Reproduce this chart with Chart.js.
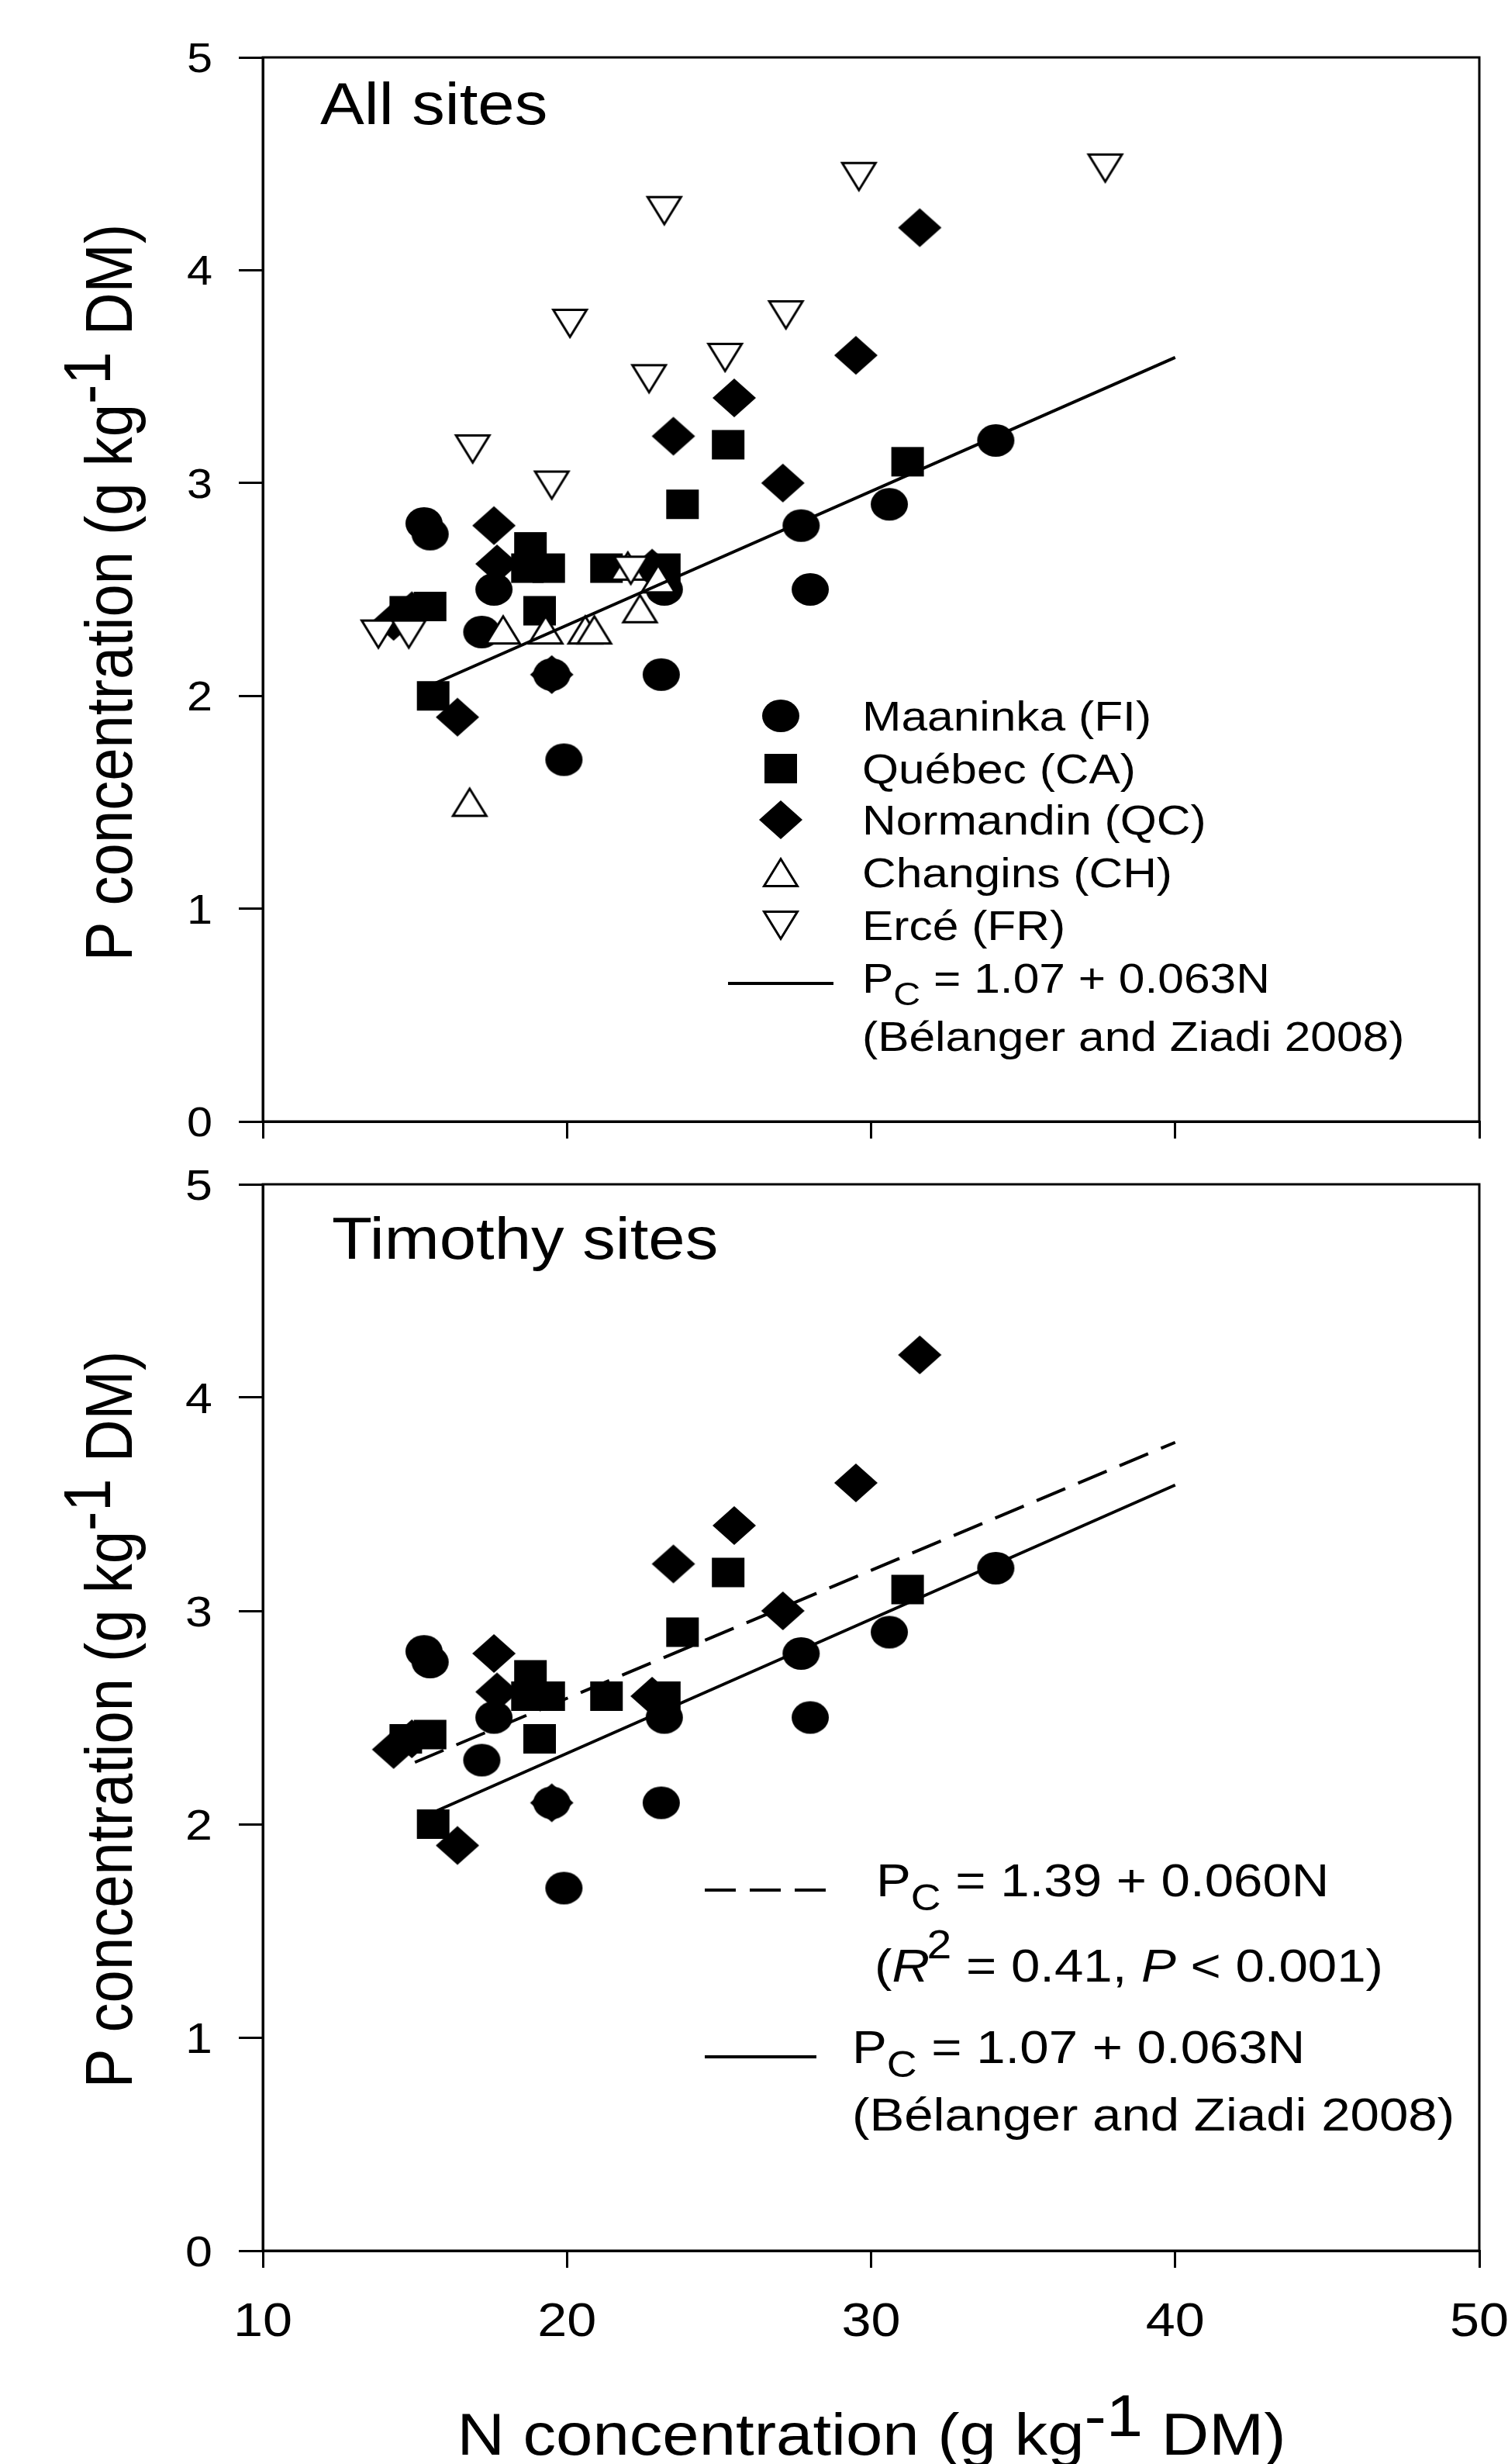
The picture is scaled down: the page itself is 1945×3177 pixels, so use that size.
<!DOCTYPE html>
<html>
<head>
<meta charset="utf-8">
<script src="https://cdn.jsdelivr.net/npm/chart.js@4.4.1/dist/chart.umd.min.js"></script>
<style>
  html, body { margin: 0; padding: 0; background: #fff; }
  #wrap { position: relative; width: 1945px; height: 3177px; overflow: hidden; }
  canvas { position: absolute; left: 0; }
</style>
</head>
<body>
<div id="wrap">
  <canvas id="topChart" width="1945" height="1500" style="top:0px"></canvas>
  <canvas id="bottomChart" width="1945" height="1687" style="top:1490px"></canvas>
</div>
<script>
// N (x) and P (y) concentrations per site
const maaninkaN = [15.3, 15.5, 17.6, 17.2, 19.5, 19.9, 23.1, 23.2, 27.7, 28.0, 30.6, 34.1];
const maaninkaP = [2.81, 2.76, 2.50, 2.30, 2.10, 1.70, 2.10, 2.50, 2.80, 2.50, 2.90, 3.20];

const quebecN = [15.6, 15.5, 14.7, 18.8, 19.4, 18.7, 19.1, 21.3, 23.2, 23.8, 25.3, 31.2];
const quebecP = [2.00, 2.42, 2.40, 2.70, 2.60, 2.60, 2.40, 2.60, 2.60, 2.90, 3.18, 3.10];

const normandinN = [31.6, 29.5, 25.5, 23.5, 27.1, 17.6, 17.7, 22.8, 19.5, 16.4, 14.3, 14.9];
const normandinP = [4.20, 3.60, 3.40, 3.22, 3.00, 2.80, 2.62, 2.60, 2.10, 1.90, 2.35, 2.40];

const changinsN = [16.8, 17.9, 19.3, 20.6, 20.9, 22.4, 22.0, 23.0];
const changinsP = [1.50, 2.31, 2.31, 2.31, 2.31, 2.41, 2.61, 2.55];

const erceN = [37.7, 29.6, 23.2, 20.1, 27.2, 25.2, 22.7, 16.9, 19.5, 22.1, 13.8, 14.8];
const erceP = [4.48, 4.44, 4.28, 3.75, 3.79, 3.59, 3.49, 3.16, 2.99, 2.59, 2.29, 2.29];

// critical P lines (end points)
const refLineN = [15.2, 40];      // Pc = 1.07 + 0.063N
const refLineP = [2.03, 3.59];
const timothyLineN = [15.0, 40];  // Pc = 1.39 + 0.060N
const timothyLineP = [2.29, 3.79];

const xTicks = [10, 20, 30, 40, 50];
const yTicks = [0, 1, 2, 3, 4, 5];

const FONT = '"Liberation Sans", Arial, Helvetica, sans-serif';
const SX = 1.12; // the original figure is stretched sideways

function makeMarker(kind, w, h) {
  const pad = 4;
  const c = document.createElement('canvas');
  c.width = w + pad * 2;
  c.height = h + pad * 2;
  const g = c.getContext('2d');
  g.translate(pad, pad);
  g.fillStyle = '#000';
  g.strokeStyle = '#000';
  g.lineWidth = 3;
  g.beginPath();
  if (kind === 'circle') {
    g.ellipse(w / 2, h / 2, w / 2, h / 2, 0, 0, Math.PI * 2);
  } else if (kind === 'square') {
    g.rect(0, 0, w, h);
  } else if (kind === 'diamond') {
    g.moveTo(w / 2, 0); g.lineTo(w, h / 2); g.lineTo(w / 2, h); g.lineTo(0, h / 2); g.closePath();
  } else if (kind === 'up') {
    g.moveTo(w / 2, 1.5); g.lineTo(w - 1.5, h - 1.5); g.lineTo(1.5, h - 1.5); g.closePath();
  } else if (kind === 'down') {
    g.moveTo(1.5, 1.5); g.lineTo(w - 1.5, 1.5); g.lineTo(w / 2, h - 1.5); g.closePath();
  }
  if (kind === 'up' || kind === 'down') {
    g.fillStyle = '#fff';
    g.fill();
    g.stroke();
  } else {
    g.fill();
  }
  return c;
}

const markers = {
  circle: makeMarker('circle', 48, 42),
  square: makeMarker('square', 42, 38),
  diamond: makeMarker('diamond', 56, 50),
  up: makeMarker('up', 46, 38),
  down: makeMarker('down', 46, 38)
};

const pts = (N, P) => N.map((x, i) => ({ x: x, y: P[i] }));

const siteSet = (label, N, P, style) => ({
  label: label,
  data: pts(N, P),
  pointStyle: markers[style],
  pointRadius: 22,
  pointHoverRadius: 22,
  showLine: false
});

const lineSet = (label, N, P, dash) => ({
  label: label,
  data: pts(N, P),
  showLine: true,
  borderColor: '#000',
  borderWidth: 4,
  borderDash: dash,
  pointRadius: 0,
  fill: false
});

// ---- text helpers (drawn on the canvas, stretched like the original) ----
function setRunFont(ctx, r, size) {
  ctx.font = (r.italic ? 'italic ' : '') + (size * (r.scale || 1)) + 'px ' + FONT;
}
function runWidth(ctx, runs, size) {
  let w = 0;
  runs.forEach(r => { setRunFont(ctx, r, size); w += ctx.measureText(r.t).width + (r.dx || 0); });
  return w;
}
function drawRuns(ctx, runs, size) {
  let cx = 0;
  runs.forEach(r => {
    setRunFont(ctx, r, size);
    cx += r.dx || 0;
    ctx.fillText(r.t, cx, (r.dy || 0) * size);
    cx += ctx.measureText(r.t).width;
  });
}
function text(ctx, runs, x, y, size, align) {
  ctx.save();
  ctx.fillStyle = '#000';
  ctx.textAlign = 'left';
  ctx.textBaseline = 'alphabetic';
  ctx.translate(x, y);
  ctx.scale(SX, 1);
  if (align === 'center') ctx.translate(-runWidth(ctx, runs, size) / 2, 0);
  if (align === 'right') ctx.translate(-runWidth(ctx, runs, size), 0);
  drawRuns(ctx, runs, size);
  ctx.restore();
}
function vtext(ctx, runs, x, y, size) {
  ctx.save();
  ctx.fillStyle = '#000';
  ctx.textAlign = 'left';
  ctx.textBaseline = 'alphabetic';
  ctx.translate(x, y);
  ctx.scale(SX, 1);
  ctx.rotate(-Math.PI / 2);
  ctx.translate(-runWidth(ctx, runs, size) / 2, 0);
  drawRuns(ctx, runs, size);
  ctx.restore();
}
function legendLine(ctx, x1, x2, y, dash) {
  ctx.save();
  ctx.strokeStyle = '#000';
  ctx.lineWidth = 4;
  ctx.setLineDash(dash || []);
  ctx.beginPath();
  ctx.moveTo(x1, y);
  ctx.lineTo(x2, y);
  ctx.stroke();
  ctx.restore();
}
function drawMarker(ctx, m, x, y) {
  ctx.drawImage(m, x - m.width / 2, y - m.height / 2);
}

const yTitle = [{ t: 'P concentration (g kg' }, { t: '-1', dy: -0.33 }, { t: ' DM)' }];
const xTitle = [{ t: 'N concentration (g kg' }, { t: '-1', dy: -0.32 }, { t: ' DM)' }];
const pc = rest => [{ t: 'P' }, { t: 'C', scale: 0.8, dy: 0.3 }, { t: ' = ' + rest }];
const refCite = [{ t: '(B\u00e9langer and Ziadi 2008)' }];

// tick labels placed through the chart's own scales, stretched like the rest of the text
function drawTickLabels(chart, o) {
  const ctx = chart.ctx;
  const xs = chart.scales.x;
  const ys = chart.scales.y;
  yTicks.forEach(v => {
    text(ctx, [{ t: String(v) }], 274, ys.getPixelForValue(v) + 0.36 * o.ySize, o.ySize, 'right');
  });
  if (o.xLabels) {
    xTicks.forEach(v => {
      text(ctx, [{ t: String(v) }], xs.getPixelForValue(v), xs.bottom - o.xHeight + 110, o.xSize, 'center');
    });
  }
}

function framePlugin(o, drawText) {
  return {
    id: 'frame',
    afterDraw(chart) {
      const a = chart.chartArea;
      const ctx = chart.ctx;
      ctx.save();
      ctx.strokeStyle = '#000';
      ctx.lineWidth = 3;
      ctx.strokeRect(a.left, a.top, a.right - a.left, a.bottom - a.top);
      ctx.restore();
      drawTickLabels(chart, o);
      drawText(ctx);
    }
  };
}

// fixed axis boxes so the plot area lands where it is in the figure
function noPad(s) {
  s.paddingLeft = 0;
  s.paddingRight = 0;
  s.paddingTop = 0;
  s.paddingBottom = 0;
}

function makeScales(o) {
  return {
    x: {
      type: 'linear',
      min: xTicks[0],
      max: xTicks[xTicks.length - 1],
      afterBuildTicks: s => { s.ticks = xTicks.map(v => ({ value: v })); },
      afterFit: s => { s.height = o.xHeight; noPad(s); },
      grid: { drawOnChartArea: false, drawTicks: true, tickLength: 22, color: '#000', lineWidth: 3 },
      border: { display: true, color: '#000', width: 3 },
      ticks: { display: false }
    },
    y: {
      type: 'linear',
      min: yTicks[0],
      max: yTicks[yTicks.length - 1],
      afterBuildTicks: s => { s.ticks = yTicks.map(v => ({ value: v })); },
      afterFit: s => { s.width = 339; noPad(s); },
      grid: { drawOnChartArea: false, drawTicks: true, tickLength: 31, color: '#000', lineWidth: 3 },
      border: { display: true, color: '#000', width: 3 },
      ticks: { display: false }
    }
  };
}

const common = {
  responsive: false,
  animation: false,
  devicePixelRatio: 1,
  events: []
};

// ---- top panel: all sites ----
const topOpts = { xLabels: false, xHeight: 54, ySize: 53, xSize: 60 };

function drawTopText(ctx) {
  text(ctx, [{ t: 'All sites' }], 413, 160, 76);
  vtext(ctx, yTitle, 170, 764, 76);
  const rows = [
    ['circle', 'Maaninka (FI)', 923],
    ['square', 'Qu\u00e9bec (CA)', 991],
    ['diamond', 'Normandin (QC)', 1057],
    ['up', 'Changins (CH)', 1125],
    ['down', 'Erc\u00e9 (FR)', 1193]
  ];
  rows.forEach(r => {
    drawMarker(ctx, markers[r[0]], 1007, r[2]);
    text(ctx, [{ t: r[1] }], 1112, r[2] + 19, 54);
  });
  legendLine(ctx, 939, 1075, 1268);
  text(ctx, pc('1.07 + 0.063N'), 1112, 1280, 54);
  text(ctx, refCite, 1112, 1355, 54);
}

new Chart(document.getElementById('topChart'), {
  type: 'scatter',
  data: {
    datasets: [
      lineSet('Pc = 1.07 + 0.063N', refLineN, refLineP, []),
      siteSet('Erc\u00e9 (FR)', erceN, erceP, 'down'),
      siteSet('Changins (CH)', changinsN, changinsP, 'up'),
      siteSet('Normandin (QC)', normandinN, normandinP, 'diamond'),
      siteSet('Qu\u00e9bec (CA)', quebecN, quebecP, 'square'),
      siteSet('Maaninka (FI)', maaninkaN, maaninkaP, 'circle')
    ]
  },
  options: Object.assign({}, common, {
    layout: { padding: { left: 0, right: 37, top: 74, bottom: 0 } },
    scales: makeScales(topOpts),
    plugins: { legend: { display: false }, tooltip: { enabled: false } }
  }),
  plugins: [framePlugin(topOpts, drawTopText)]
});

// ---- bottom panel: timothy sites ----
const bottomOpts = { xLabels: true, xHeight: 275, ySize: 56, xSize: 61 };

function drawBottomText(ctx) {
  const off = 1490;
  text(ctx, [{ t: 'Timothy sites' }], 428, 1623 - off, 76);
  vtext(ctx, yTitle, 170, 2217 - off, 76);
  text(ctx, xTitle, 1124, 3165 - off, 76, 'center');
  legendLine(ctx, 909, 1065, 2437 - off, [40, 18]);
  text(ctx, pc('1.39 + 0.060N'), 1130, 2445 - off, 60);
  text(ctx, [
    { t: '(' }, { t: 'R', italic: true }, { t: '2', scale: 0.85, dy: -0.5, dx: -3 },
    { t: ' = 0.41, ' }, { t: 'P', italic: true }, { t: ' < 0.001)' }
  ], 1128, 2555 - off, 60);
  legendLine(ctx, 909, 1053, 2652 - off);
  text(ctx, pc('1.07 + 0.063N'), 1099, 2660 - off, 60);
  text(ctx, refCite, 1099, 2747 - off, 60);
}

new Chart(document.getElementById('bottomChart'), {
  type: 'scatter',
  data: {
    datasets: [
      lineSet('Pc = 1.07 + 0.063N', refLineN, refLineP, []),
      lineSet('Pc = 1.39 + 0.060N', timothyLineN, timothyLineP, [40, 18]),
      siteSet('Normandin (QC)', normandinN, normandinP, 'diamond'),
      siteSet('Qu\u00e9bec (CA)', quebecN, quebecP, 'square'),
      siteSet('Maaninka (FI)', maaninkaN, maaninkaP, 'circle')
    ]
  },
  options: Object.assign({}, common, {
    layout: { padding: { left: 0, right: 37, top: 37, bottom: 0 } },
    scales: makeScales(bottomOpts),
    plugins: { legend: { display: false }, tooltip: { enabled: false } }
  }),
  plugins: [framePlugin(bottomOpts, drawBottomText)]
});
</script>
</body>
</html>
